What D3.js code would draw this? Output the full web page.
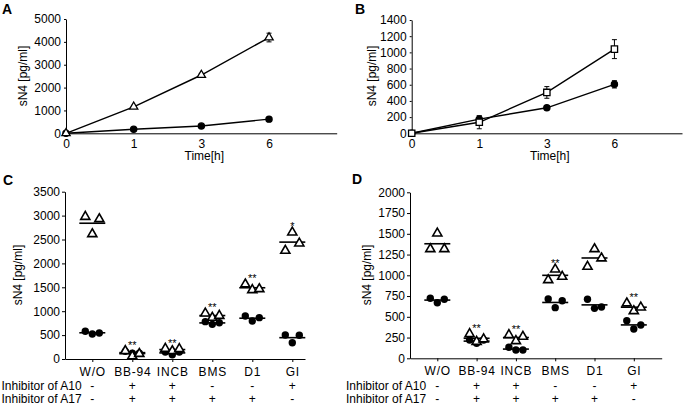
<!DOCTYPE html>
<html>
<head>
<meta charset="utf-8">
<style>
body { margin: 0; background: #fff; }
svg { font-family: "Liberation Sans", Arial, sans-serif; }
.axis path, .axis line { stroke: #000; stroke-width: 1; }
.axis text { font-size: 12px; fill: #000; }
</style>
</head>
<body>
<svg id="fig" width="683" height="405"></svg>

<script src="https://d3js.org/d3.v7.min.js"></script>
<script>
// time points (panels A and B)
var timeLabels = ["0", "1", "3", "6"];

// panel A
var aTri = [0, 1160, 2550, 4190];
var aTriErr = [0, 60, 70, 190];
var aCirc = [0, 175, 320, 620];
var aCircErr = [0, 20, 25, 30];

// panel B
var bSq = [0, 136, 505, 1040];
var bSqErr = [0, 80, 72, 117];
var bCirc = [0, 175, 315, 605];
var bCircErr = [0, 40, 25, 45];

// panels C and D
var cats = ["W/O", "BB-94", "INCB", "BMS", "D1", "GI"];
var inhA10 = ["-", "+", "+", "-", "-", "+"];
var inhA17 = ["-", "+", "+", "+", "+", "-"];

var cTri = [[2977, 2615, 2929], [170, 60, 110], [215, 167, 210],
            [956, 865, 906], [1563, 1444, 1464], [2266, 2650, 2420]];
var cCirc = [[579, 523, 544], [160, 120, 120], [146, 90, 146],
             [781, 725, 759], [900, 795, 865], [502, 341, 496]];
var cStars = ["", "**", "**", "**", "**", "*"];

var dTri = [[1317, 1506, 1317], [293, 200, 230], [281, 209, 261],
            [943, 1072, 984], [1104, 1317, 1205], [663, 570, 614]];
var dCirc = [[723, 670, 711], [220, 181, 220], [133, 100, 100],
             [714, 610, 694], [711, 602, 618], [453, 353, 401]];
var dStars = ["", "**", "**", "**", "", "**"];

var svg = d3.select("#fig");

function panelLetter(txt, x, y) {
    svg.append("text").attr("x", x).attr("y", y)
        .attr("font-size", 14).attr("font-weight", "bold").text(txt);
}

function yTitle(x, y) {
    svg.append("text")
        .attr("transform", "translate(" + x + "," + y + ") rotate(-90)")
        .attr("text-anchor", "middle").attr("font-size", 12)
        .text("sN4 [pg/ml]");
}

// ---------- time course panels ----------
function timePanel(opt) {
    var x = d3.scaleLinear().domain([0, 4]).range([opt.x0, opt.x1]);
    var y = d3.scaleLinear().domain([0, opt.ymax]).range([opt.yb, opt.yt]);

    svg.append("g").attr("class", "axis")
        .attr("transform", "translate(" + opt.x0 + ",0)")
        .call(d3.axisLeft(y).tickValues(d3.range(0, opt.ymax + 1, opt.step))
            .tickFormat(d3.format("d"))
            .tickSize(2).tickPadding(3).tickSizeOuter(0));
    svg.append("g").attr("class", "axis")
        .attr("transform", "translate(0," + opt.yb + ")")
        .call(d3.axisBottom(x).tickValues([0, 1, 2, 3])
            .tickFormat(function(i) { return timeLabels[i]; })
            .tickSize(0).tickPadding(6).tickSizeOuter(0));

    svg.append("text").attr("x", (opt.x0 + opt.x1) / 2 + 3).attr("y", opt.yb + 27)
        .attr("text-anchor", "middle").attr("font-size", 12).text("Time[h]");

    var line = d3.line().x(function(d, i) { return x(i); }).y(function(d) { return y(d); });

    opt.series.forEach(function(s) {
        var g = svg.append("g");
        g.append("path").datum(s.vals).attr("d", line)
            .attr("fill", "none").attr("stroke", "#000").attr("stroke-width", 1.4);
        s.vals.forEach(function(v, i) {
            var e = s.err[i];
            if (e > 0) {
                g.append("line").attr("x1", x(i)).attr("x2", x(i))
                    .attr("y1", y(v - e)).attr("y2", y(v + e)).attr("stroke", "#000");
                [v - e, v + e].forEach(function(w) {
                    g.append("line").attr("x1", x(i) - 2.5).attr("x2", x(i) + 2.5)
                        .attr("y1", y(w)).attr("y2", y(w)).attr("stroke", "#000");
                });
            }
            g.append("path")
                .attr("d", d3.symbol(s.type).size(s.size)())
                .attr("transform", "translate(" + x(i) + "," + y(v) + ")")
                .attr("fill", s.fill).attr("stroke", "#000").attr("stroke-width", 1.3);
        });
    });
}

timePanel({x0: 66, x1: 336.7, yb: 133.3, yt: 19, ymax: 5000, step: 1000,
    series: [
        {vals: aCirc, err: aCircErr, type: d3.symbolCircle, size: 30, fill: "#000"},
        {vals: aTri, err: aTriErr, type: d3.symbolTriangle, size: 30, fill: "#fff"}
    ]});
timePanel({x0: 411.7, x1: 682, yb: 133.3, yt: 20, ymax: 1400, step: 200,
    series: [
        {vals: bCirc, err: bCircErr, type: d3.symbolCircle, size: 30, fill: "#000"},
        {vals: bSq, err: bSqErr, type: d3.symbolSquare, size: 40, fill: "#fff"}
    ]});

// ---------- inhibitor scatter panels ----------
function dotPanel(opt) {
    var x = d3.scaleLinear().domain(opt.xdom).range([opt.x0, opt.x1]);
    var y = d3.scaleLinear().domain([0, opt.ymax]).range([opt.yb, opt.yt]);

    svg.append("g").attr("class", "axis")
        .attr("transform", "translate(" + opt.x0 + ",0)")
        .call(d3.axisLeft(y).tickValues(d3.range(0, opt.ymax + 1, opt.step))
            .tickFormat(d3.format("d"))
            .tickSize(3).tickPadding(2).tickSizeOuter(0));
    var xa = svg.append("g").attr("class", "axis")
        .attr("transform", "translate(0," + opt.yb + ")")
        .call(d3.axisBottom(x).tickValues(d3.range(cats.length))
            .tickFormat(function(i) { return cats[i]; })
            .tickSize(3).tickPadding(5).tickSizeOuter(0));
    xa.selectAll("text").attr("letter-spacing", "0.8px");

    var offs = [-7, 0, 7];
    cats.forEach(function(c, i) {
        var g = svg.append("g");
        [opt.circ[i], opt.tri[i]].forEach(function(vals) {
            var m = d3.mean(vals);
            g.append("line").attr("x1", x(i) - 13).attr("x2", x(i) + 13)
                .attr("y1", y(m)).attr("y2", y(m))
                .attr("stroke", "#000").attr("stroke-width", 1.6);
        });
        opt.circ[i].forEach(function(v, k) {
            g.append("circle").attr("cx", x(i) + offs[k]).attr("cy", y(v))
                .attr("r", 3.7).attr("fill", "#000");
        });
        opt.tri[i].forEach(function(v, k) {
            g.append("path").attr("d", d3.symbol(d3.symbolTriangle).size(36)())
                .attr("transform", "translate(" + (x(i) + offs[k]) + "," + y(v) + ")")
                .attr("fill", "#fff").attr("stroke", "#000").attr("stroke-width", 1.6);
        });
        if (opt.stars[i]) {
            var top = d3.max(opt.tri[i].concat(opt.circ[i]));
            g.append("text").attr("x", x(i)).attr("y", y(top) - 2)
                .attr("text-anchor", "middle").attr("font-size", 11)
                .attr("fill", "#000").text(opt.stars[i]);
        }
        svg.append("text").attr("x", x(i)).attr("y", 390)
            .attr("text-anchor", "middle").attr("font-size", 12).text(inhA10[i]);
        svg.append("text").attr("x", x(i)).attr("y", 403)
            .attr("text-anchor", "middle").attr("font-size", 12).text(inhA17[i]);
    });

    svg.append("text").attr("x", opt.lx).attr("y", 390).attr("font-size", 12)
        .text("Inhibitor of A10");
    svg.append("text").attr("x", opt.lx).attr("y", 403).attr("font-size", 12)
        .text("Inhibitor of A17");
}

dotPanel({x0: 65, x1: 305, xdom: [-0.6825, 5.3175], yb: 359, yt: 191.7,
    ymax: 3500, step: 500, tri: cTri, circ: cCirc, stars: cStars, lx: 1.5});
dotPanel({x0: 410, x1: 661.7, xdom: [-0.695, 5.71], yb: 358.3, yt: 192.3,
    ymax: 2000, step: 250, tri: dTri, circ: dCirc, stars: dStars, lx: 346});

yTitle(27, 76);
yTitle(376, 76);
yTitle(22, 275);
yTitle(371, 275);

panelLetter("A", 2, 14);
panelLetter("B", 355, 14);
panelLetter("C", 3, 185);
panelLetter("D", 352, 184);
</script>
</body>
</html>
